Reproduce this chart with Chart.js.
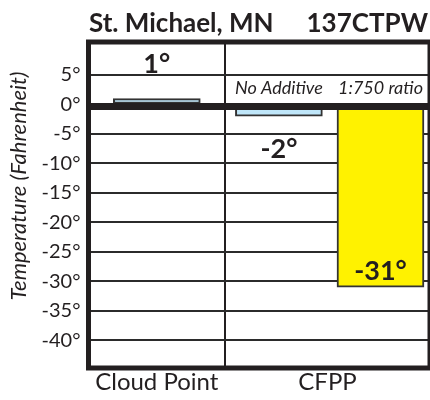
<!DOCTYPE html>
<html>
<head>
<meta charset="utf-8">
<script src="https://cdn.jsdelivr.net/npm/chart.js@4"></script>
<style>
  html, body { margin: 0; padding: 0; background: #fff; }
  #wrap { width: 430px; height: 400px; }
</style>
</head>
<body>
<div id="wrap"><canvas id="chart"></canvas></div>
<script>
// ---- data ----
const titleLeft = 'St. Michael, MN';
const titleRight = '137CTPW';
const yAxisTitle = 'Temperature (Fahrenheit)';
const categories = ['Cloud Point', 'CFPP'];
const barNames = ['', 'No Additive', '1:750 ratio'];
const barValues = [1, -2, -31];
const yTicks = [5, 0, -5, -10, -15, -20, -25, -30, -35, -40];

// ---- layout (x runs 0..4 across the plot) ----
const X_MAX = 4;
const CATEGORY_CENTERS = [0.8, 2.8];
const DIVIDER = 1.6;
const BAR_CENTERS = [0.8, 2.23, 3.42];
const LABEL_PLACE = ['above', 'below', 'inside'];

const INK = '#231f20';
const FONT = 'Lato, "Open Sans", sans-serif';
const fills = ['#bfe6f9', '#bfe6f9', '#fff200'];

const chartPaint = {
  id: 'chartPaint',
  beforeDraw(chart) {
    const ctx = chart.ctx;
    ctx.save();
    ctx.fillStyle = INK;
    ctx.font = 'bold 26px ' + FONT;
    ctx.textBaseline = 'alphabetic';
    ctx.textAlign = 'left';
    ctx.fillText(titleLeft, 89, 32);
    ctx.textAlign = 'right';
    ctx.fillText(titleRight, 428, 32);

    ctx.translate(19, 186);
    ctx.rotate(-Math.PI / 2);
    ctx.font = 'italic 22px ' + FONT;
    ctx.textAlign = 'center';
    ctx.textBaseline = 'middle';
    ctx.fillText(yAxisTitle, 0, 0);
    ctx.restore();
  },
  afterDatasetsDraw(chart) {
    const ctx = chart.ctx;
    const a = chart.chartArea;
    const y0 = chart.scales.y.getPixelForValue(0);
    ctx.save();
    ctx.strokeStyle = INK;
    // heavy zero line, hanging just below the 0 value
    ctx.lineWidth = 7;
    ctx.beginPath();
    ctx.moveTo(a.left, y0 + 2);
    ctx.lineTo(a.right, y0 + 2);
    ctx.stroke();
    // plot frame
    ctx.lineWidth = 5;
    ctx.strokeRect(a.left, a.top, a.right - a.left, a.bottom - a.top);

    const meta = chart.getDatasetMeta(0);
    meta.data.forEach((bar, i) => {
      // series names above the zero line
      if (barNames[i]) {
        ctx.font = 'italic 18px ' + FONT;
        ctx.fillStyle = INK;
        ctx.textAlign = 'center';
        ctx.textBaseline = 'alphabetic';
        ctx.fillText(barNames[i], bar.x, y0 - 10);
      }
      // value labels
      ctx.font = 'bold 27px ' + FONT;
      ctx.fillStyle = INK;
      ctx.textAlign = 'center';
      ctx.textBaseline = 'alphabetic';
      const txt = barValues[i] + '\u00B0';
      let ty;
      if (LABEL_PLACE[i] === 'above') ty = bar.y - 26;
      else if (LABEL_PLACE[i] === 'below') ty = bar.y + 42;
      else ty = bar.y - 7;
      ctx.fillText(txt, bar.x, ty);
    });
    ctx.restore();
  }
};

new Chart(document.getElementById('chart'), {
  type: 'bar',
  data: {
    datasets: [{
      data: barValues.map((v, i) => ({ x: BAR_CENTERS[i], y: v })),
      backgroundColor: fills,
      borderColor: '#333333',
      borderWidth: 2,
      borderSkipped: false,
      barThickness: 87
    }]
  },
  options: {
    responsive: true,
    maintainAspectRatio: false,
    animation: false,
    layout: { padding: { top: 42, left: 0, right: 0, bottom: 0 } },
    plugins: { legend: { display: false }, tooltip: { enabled: false }, title: { display: false } },
    scales: {
      x: {
        type: 'linear',
        offset: false,
        min: 0,
        max: X_MAX,
        afterBuildTicks(scale) {
          scale.ticks = [CATEGORY_CENTERS[0], DIVIDER, CATEGORY_CENTERS[1]].map(v => ({ value: v }));
        },
        afterFit(scale) { scale.height = 32; },
        grid: {
          offset: false,
          color: c => (c.tick && c.tick.value === DIVIDER) ? INK : 'rgba(0,0,0,0)',
          lineWidth: 2,
          drawTicks: false
        },
        border: { display: false },
        ticks: {
          autoSkip: false,
          maxRotation: 0,
          padding: 0,
          color: INK,
          font: { family: FONT, size: 24 },
          callback: v => {
            const idx = CATEGORY_CENTERS.indexOf(v);
            return idx >= 0 ? categories[idx] : '';
          }
        }
      },
      y: {
        min: -44.7,
        max: 10.6,
        afterBuildTicks(scale) {
          scale.ticks = yTicks.map(v => ({ value: v }));
        },
        afterFit(scale) { scale.width = 88.5; },
        grid: { color: '#2b2b2b', lineWidth: 2, drawTicks: false },
        border: { display: false },
        ticks: {
          padding: 8,
          color: INK,
          font: { family: FONT, size: 20 },
          callback: v => v + '\u00B0'
        }
      }
    }
  },
  plugins: [chartPaint]
});
</script>
</body>
</html>
